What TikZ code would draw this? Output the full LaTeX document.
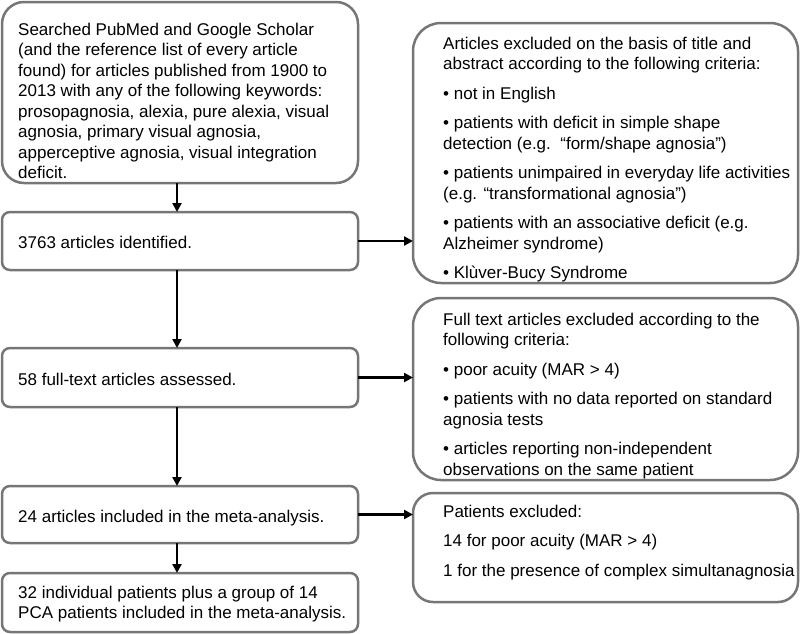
\documentclass[tikz,border=0pt]{standalone}
\usepackage{fontspec}
\setmainfont{Liberation Sans}
\usetikzlibrary{arrows.meta}

\definecolor{boxgray}{RGB}{118,118,118}

\tikzset{
  box/.style={draw=boxgray, line width=2.5pt, rounded corners=#1, outer sep=0pt, inner sep=0pt},
  box/.default=8pt,
  txt/.style={font=\fontsize{17}{20.5}\selectfont, align=left, inner sep=0pt, anchor=north west},
  flow/.style={line width=2.4pt, -{Triangle[length=9pt,width=9pt]}}
}

\begin{document}
\begin{tikzpicture}[x=1pt, y=-1pt]
  \useasboundingbox (0,0) rectangle (800,633);

  % Left column
  \node[box=22pt, minimum width=356pt, minimum height=181pt] (search) at (180,92.5) {};
  \node[box, minimum width=356pt, minimum height=58pt] (ident) at (180,241) {};
  \node[box, minimum width=356pt, minimum height=59pt] (full) at (180,377.5) {};
  \node[box, minimum width=356pt, minimum height=57pt] (incl) at (180,514.5) {};
  \node[box, minimum width=356pt, minimum height=59pt] (final) at (180,602.5) {};

  % Right column
  \node[box=28pt, minimum width=385pt, minimum height=260pt] (excla) at (605.5,153) {};
  \node[box=28pt, minimum width=385pt, minimum height=182pt] (exclb) at (605.5,389) {};
  \node[box=20pt, minimum width=385pt, minimum height=109pt] (exclc) at (605.5,547.5) {};

  % Texts
  \node[txt] (search-t) at ([shift={(16,20.6)}]search.north west)
    {Searched PubMed and Google Scholar\\(and the reference list of every article\\found) for articles published from 1900 to\\2013 with any of the following keywords:\\prosopagnosia, alexia, pure alexia, visual\\agnosia, primary visual agnosia,\\apperceptive agnosia, visual integration\\deficit.};
  \node[txt, anchor=base west] (ident-t) at ([shift={(16,7)}]ident.west) {3763 articles identified.};
  \node[txt, anchor=base west] (full-t) at ([shift={(16,7.5)}]full.west) {58 full-text articles assessed.};
  \node[txt, anchor=base west] (incl-t) at ([shift={(16,7.5)}]incl.west) {24 articles included in the meta-analysis.};
  \node[txt] (final-t) at ([shift={(16,-16.9)}]final.west)
    {32 individual patients plus a group of 14\\PCA patients included in the meta-analysis.};

  \node[txt] (excla-t) at ([shift={(30,13.6)}]excla.north west)
    {Articles excluded on the basis of title and\\abstract according to the following criteria:\\[9pt]
     • not in English\\[9pt]
     • patients with deficit in simple shape\\detection (e.g.\ \ “form/shape agnosia”)\\[9pt]
     • patients unimpaired in everyday life activities\\(e.g. “transformational agnosia”)\\[9pt]
     • patients with an associative deficit (e.g.\\Alzheimer syndrome)\\[9pt]
     • Klùver-Bucy Syndrome};
  \node[txt] (exclb-t) at ([shift={(30,14.6)}]exclb.north west)
    {Full text articles excluded according to the\\following criteria:\\[9pt]
     • poor acuity (MAR > 4)\\[9pt]
     • patients with no data reported on standard\\agnosia tests\\[9pt]
     • articles reporting non-independent\\observations on the same patient};
  \node[txt] (exclc-t) at ([shift={(30,11.6)}]exclc.north west)
    {Patients excluded:\\[9pt]
     14 for poor acuity (MAR > 4)\\[9pt]
     1 for the presence of complex simultanagnosia};

  % Arrows
  \draw[flow] ([xshift=-3pt]search.south) -- ([xshift=-3pt]ident.north);
  \draw[flow] ([xshift=-3pt]ident.south) -- ([xshift=-3pt]full.north);
  \draw[flow] ([xshift=-3pt]full.south) -- ([xshift=-3pt]incl.north);
  \draw[flow] ([xshift=-3pt]incl.south) -- ([xshift=-3pt]final.north);
  \draw[flow] (ident.east) -- (ident.east -| excla.west);
  \draw[flow] (full.east) -- (full.east -| exclb.west);
  \draw[flow] (incl.east) -- (incl.east -| exclc.west);
\end{tikzpicture}
\end{document}
